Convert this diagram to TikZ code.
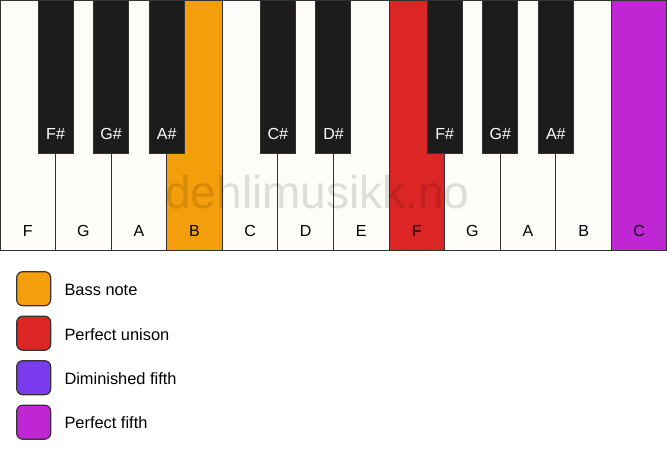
\documentclass[tikz,border=0pt]{standalone}
\usepackage{fontspec}
\setmainfont{Liberation Sans}
\definecolor{keywhite}{HTML}{FDFCF8}
\definecolor{keyblack}{HTML}{1C1C1C}
\definecolor{keyline}{HTML}{333333}
\definecolor{cbass}{HTML}{F59E0B}
\definecolor{cunison}{HTML}{DC2626}
\definecolor{cdim}{HTML}{7C3AED}
\definecolor{cfifth}{HTML}{C026D3}
\begin{document}
\begin{tikzpicture}[x=1pt,y=-1pt,
  whitekey/.style={draw=keyline, line width=1pt, fill=keywhite, minimum width=55.58pt, minimum height=250pt, anchor=north west, inner sep=0pt, outer sep=0pt},
  blackkey/.style={draw=keyline, line width=1pt, fill=keyblack, minimum width=35pt, minimum height=153pt, anchor=north, inner sep=0pt, outer sep=0pt},
  wlabel/.style={font=\fontsize{16}{19}\selectfont, text=black, anchor=base},
  blabel/.style={font=\fontsize{16}{19}\selectfont, text=white, anchor=base},
  legbox/.style={draw=keyline, line width=1.2pt, rounded corners=6pt, minimum width=34pt, minimum height=34pt, inner sep=0pt},
  legtext/.style={font=\fontsize{16.4}{19}\selectfont, text=black, anchor=base west, inner sep=0pt},
  watermark/.style={font=\fontsize{46}{46}\selectfont, text=black, opacity=0.12, anchor=base}]
\useasboundingbox (0,0) rectangle (667,461);
\fill[white] (0,0) rectangle (667,461);
% white keys
\foreach \i/\n/\c in {0/F/keywhite,1/G/keywhite,2/A/keywhite,3/B/cbass,4/C/keywhite,5/D/keywhite,6/E/keywhite,7/F/cunison,8/G/keywhite,9/A/keywhite,10/B/keywhite,11/C/cfifth}{
  \node[whitekey, fill=\c] (w\i) at ({\i*55.58},0) {};
  \node[wlabel] (wl\i) at ({\i*55.58+27.79},236) {\n};
}
% black keys
\foreach \j/\n in {1/F\#,2/G\#,3/A\#,5/C\#,6/D\#,8/F\#,9/G\#,10/A\#}{
  \node[blackkey] (b\j) at ({\j*55.58},0) {};
  \node[blabel] (bl\j) at ({\j*55.58},139) {\n};
}
% watermark
\node[watermark] (wm) at (317.5,208) {dehlimusikk.no};
% legend
\node[legbox, fill=cbass] (l1) at (33.7,288.7) {};
\node[legtext] (t1) at (64.3,295.7) {Bass note};
\node[legbox, fill=cunison] (l2) at (33.7,333.2) {};
\node[legtext] (t2) at (64.3,340.1) {Perfect unison};
\node[legbox, fill=cdim] (l3) at (33.7,377.7) {};
\node[legtext] (t3) at (64.3,384.4) {Diminished fifth};
\node[legbox, fill=cfifth] (l4) at (33.7,422.2) {};
\node[legtext] (t4) at (64.3,428.7) {Perfect fifth};
\end{tikzpicture}
\end{document}
